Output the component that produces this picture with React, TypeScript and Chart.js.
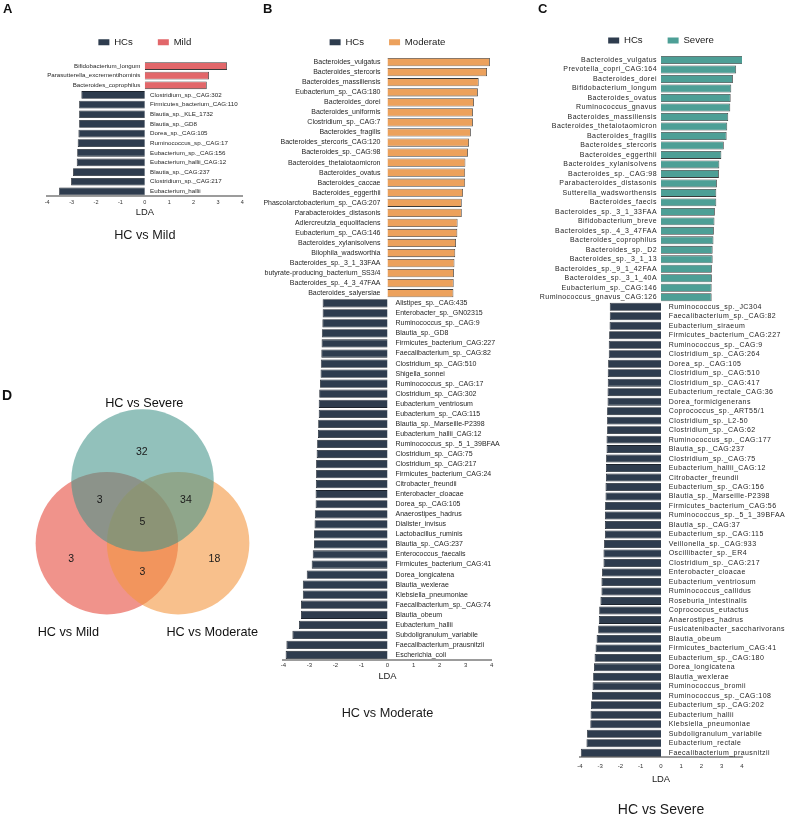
import React, { useEffect, useRef } from 'react';
import { Chart, registerables } from 'chart.js';
Chart.register(...registerables);

const FONT = "'Liberation Sans', Arial, Helvetica, sans-serif";
Chart.defaults.font.family = FONT;

// ---------------- DATA ----------------
const xTickMin = -4;
const xTickMax = 4;
const xAxisTitle = 'LDA';
const controlName = 'HCs';

// Panel A: HC vs Mild
const mildGroup = 'Mild';
const mildTitle = 'HC vs Mild';
const mildSpecies = [
  'Bifidobacterium_longum', 'Parasutterella_excrementihominis', 'Bacteroides_coprophilus',
  'Clostridium_sp._CAG:302', 'Firmicutes_bacterium_CAG:110', 'Blautia_sp._KLE_1732',
  'Blautia_sp._GD8', 'Dorea_sp._CAG:105', 'Ruminococcus_sp._CAG:17', 'Eubacterium_sp._CAG:156',
  'Eubacterium_hallii_CAG:12', 'Blautia_sp._CAG:237', 'Clostridium_sp._CAG:217', 'Eubacterium_hallii',
];
const mildLDA = [3.37, 2.63, 2.54, -2.6, -2.69, -2.69, -2.69, -2.72, -2.75, -2.77, -2.79, -2.94, -3.02, -3.51];

// Panel B: HC vs Moderate
const moderateGroup = 'Moderate';
const moderateTitle = 'HC vs Moderate';
const moderateSpecies = [
  'Bacteroides_vulgatus', 'Bacteroides_stercoris', 'Bacteroides_massiliensis', 'Eubacterium_sp._CAG:180',
  'Bacteroides_dorei', 'Bacteroides_uniformis', 'Clostridium_sp._CAG:7', 'Bacteroides_fragilis',
  'Bacteroides_stercoris_CAG:120', 'Bacteroides_sp._CAG:98', 'Bacteroides_thetaiotaomicron', 'Bacteroides_ovatus',
  'Bacteroides_caccae', 'Bacteroides_eggerthii', 'Phascolarctobacterium_sp._CAG:207', 'Parabacteroides_distasonis',
  'Adlercreutzia_equolifaciens', 'Eubacterium_sp._CAG:146', 'Bacteroides_xylanisolvens', 'Bilophila_wadsworthia',
  'Bacteroides_sp._3_1_33FAA', 'butyrate-producing_bacterium_SS3/4', 'Bacteroides_sp._4_3_47FAA', 'Bacteroides_salyersiae',
  'Alistipes_sp._CAG:435', 'Enterobacter_sp._GN02315', 'Ruminococcus_sp._CAG:9', 'Blautia_sp._GD8',
  'Firmicutes_bacterium_CAG:227', 'Faecalibacterium_sp._CAG:82', 'Clostridium_sp._CAG:510', 'Shigella_sonnei',
  'Ruminococcus_sp._CAG:17', 'Clostridium_sp._CAG:302', 'Eubacterium_ventriosum', 'Eubacterium_sp._CAG:115',
  'Blautia_sp._Marseille-P2398', 'Eubacterium_hallii_CAG:12', 'Ruminococcus_sp._5_1_39BFAA', 'Clostridium_sp._CAG:75',
  'Clostridium_sp._CAG:217', 'Firmicutes_bacterium_CAG:24', 'Citrobacter_freundii', 'Enterobacter_cloacae',
  'Dorea_sp._CAG:105', 'Anaerostipes_hadrus', 'Dialister_invisus', 'Lactobacillus_ruminis',
  'Blautia_sp._CAG:237', 'Enterococcus_faecalis', 'Firmicutes_bacterium_CAG:41', 'Dorea_longicatena',
  'Blautia_wexlerae', 'Klebsiella_pneumoniae', 'Faecalibacterium_sp._CAG:74', 'Blautia_obeum',
  'Eubacterium_hallii', 'Subdoligranulum_variabile', 'Faecalibacterium_prausnitzii', 'Escherichia_coli',
];
const moderateLDA = [
  3.93, 3.82, 3.5, 3.47, 3.32, 3.28, 3.28, 3.2, 3.13, 3.09, 2.99, 2.98,
  2.98, 2.9, 2.85, 2.85, 2.69, 2.68, 2.63, 2.6, 2.57, 2.55, 2.54, 2.53,
  -2.49, -2.49, -2.5, -2.52, -2.53, -2.54, -2.56, -2.57, -2.59, -2.62, -2.64, -2.64,
  -2.66, -2.67, -2.7, -2.72, -2.74, -2.74, -2.75, -2.76, -2.76, -2.79, -2.8, -2.82,
  -2.82, -2.87, -2.91, -3.1, -3.25, -3.25, -3.32, -3.32, -3.4, -3.65, -3.88, -3.91,
];

// Panel C: HC vs Severe
const severeGroup = 'Severe';
const severeTitle = 'HC vs Severe';
const severeSpecies = [
  'Bacteroides_vulgatus', 'Prevotella_copri_CAG:164', 'Bacteroides_dorei', 'Bifidobacterium_longum',
  'Bacteroides_ovatus', 'Ruminococcus_gnavus', 'Bacteroides_massiliensis', 'Bacteroides_thetaiotaomicron',
  'Bacteroides_fragilis', 'Bacteroides_stercoris', 'Bacteroides_eggerthii', 'Bacteroides_xylanisolvens',
  'Bacteroides_sp._CAG:98', 'Parabacteroides_distasonis', 'Sutterella_wadsworthensis', 'Bacteroides_faecis',
  'Bacteroides_sp._3_1_33FAA', 'Bifidobacterium_breve', 'Bacteroides_sp._4_3_47FAA', 'Bacteroides_coprophilus',
  'Bacteroides_sp._D2', 'Bacteroides_sp._3_1_13', 'Bacteroides_sp._9_1_42FAA', 'Bacteroides_sp._3_1_40A',
  'Eubacterium_sp._CAG:146', 'Ruminococcus_gnavus_CAG:126',
  'Ruminococcus_sp._JC304', 'Faecalibacterium_sp._CAG:82', 'Eubacterium_siraeum', 'Firmicutes_bacterium_CAG:227',
  'Ruminococcus_sp._CAG:9', 'Clostridium_sp._CAG:264', 'Dorea_sp._CAG:105', 'Clostridium_sp._CAG:510',
  'Clostridium_sp._CAG:417', 'Eubacterium_rectale_CAG:36', 'Dorea_formicigenerans', 'Coprococcus_sp._ART55/1',
  'Clostridium_sp._L2-50', 'Clostridium_sp._CAG:62', 'Ruminococcus_sp._CAG:177', 'Blautia_sp._CAG:237',
  'Clostridium_sp._CAG:75', 'Eubacterium_hallii_CAG:12', 'Citrobacter_freundii', 'Eubacterium_sp._CAG:156',
  'Blautia_sp._Marseille-P2398', 'Firmicutes_bacterium_CAG:56', 'Ruminococcus_sp._5_1_39BFAA', 'Blautia_sp._CAG:37',
  'Eubacterium_sp._CAG:115', 'Veillonella_sp._CAG:933', 'Oscillibacter_sp._ER4', 'Clostridium_sp._CAG:217',
  'Enterobacter_cloacae', 'Eubacterium_ventriosum', 'Ruminococcus_callidus', 'Roseburia_intestinalis',
  'Coprococcus_eutactus', 'Anaerostipes_hadrus', 'Fusicatenibacter_saccharivorans', 'Blautia_obeum',
  'Firmicutes_bacterium_CAG:41', 'Eubacterium_sp._CAG:180', 'Dorea_longicatena', 'Blautia_wexlerae',
  'Ruminococcus_bromii', 'Ruminococcus_sp._CAG:108', 'Eubacterium_sp._CAG:202', 'Eubacterium_hallii',
  'Klebsiella_pneumoniae', 'Subdoligranulum_variabile', 'Eubacterium_rectale', 'Faecalibacterium_prausnitzii',
];
const severeLDA = [
  4.04, 3.71, 3.55, 3.47, 3.44, 3.42, 3.32, 3.27, 3.24, 3.1, 2.98, 2.88, 2.86,
  2.76, 2.73, 2.73, 2.66, 2.64, 2.61, 2.59, 2.55, 2.55, 2.51, 2.51, 2.5, 2.5,
  -2.53, -2.53, -2.54, -2.56, -2.58, -2.58, -2.61, -2.63, -2.63, -2.64, -2.64, -2.66,
  -2.66, -2.66, -2.69, -2.69, -2.71, -2.72, -2.72, -2.74, -2.74, -2.76, -2.77, -2.77,
  -2.77, -2.81, -2.84, -2.84, -2.91, -2.94, -2.94, -2.99, -3.05, -3.07, -3.1, -3.18,
  -3.23, -3.28, -3.31, -3.35, -3.38, -3.41, -3.46, -3.48, -3.49, -3.65, -3.68, -3.96,
];

// Panel D: Venn of discriminant species
const vennSetNames = ['HC vs Mild', 'HC vs Moderate', 'HC vs Severe'];
const vennRadius = 1;
const vennCentersX = [-0.5, 0.5, 0];
const vennCentersY = [-0.29, -0.29, 0.59];
const vennCounts = [32, 3, 34, 5, 3, 3, 18];
const vennCountX = [-0.01, -0.6, 0.61, 0, -1.0, 0, 1.01];
const vennCountY = [0.99, 0.32, 0.32, 0, -0.52, -0.7, -0.52];

// ---------------- STYLE ----------------
const HC_COLOR = '#2e3c4e';
const MILD_COLOR = '#e2676a';
const MODERATE_COLOR = '#eca15c';
const SEVERE_COLOR = '#4d9f96';
const VENN_COLORS = ['rgba(230,75,62,0.6)', 'rgba(243,150,63,0.6)', 'rgba(68,148,137,0.58)'];

const LEG_FONT = 9.6;
const LEG_PAD = 25;

type Layout = {
  left: number; top: number; width: number;
  xNeg4: number; xPos4: number;
  legendY: number; areaTop: number; axisY: number;
  tickFont: number; tickY: number;
  ldaFont: number; ldaY: number;
  titleFont: number; titleY: number;
  labelFont: number; letterSpacing: number; gapPos: number; gapNeg: number;
  barPct: number;
};

const layoutA: Layout = {
  left: 0, top: 0, width: 250, xNeg4: 47.2, xPos4: 242.4,
  legendY: 42.3, areaTop: 61.2, axisY: 196.2,
  tickFont: 5.5, tickY: 202.7, ldaFont: 9.4, ldaY: 212.3, titleFont: 12.7, titleY: 235,
  labelFont: 6.2, letterSpacing: 0, gapPos: 4.4, gapNeg: 5.3, barPct: 0.8,
};
const layoutB: Layout = {
  left: 235, top: 0, width: 285, xNeg4: 283.3, xPos4: 491.7,
  legendY: 42.3, areaTop: 57.1, axisY: 660,
  tickFont: 6, tickY: 665.3, ldaFont: 9.4, ldaY: 676.7, titleFont: 12.7, titleY: 713.3,
  labelFont: 7, letterSpacing: 0, gapPos: 7, gapNeg: 8, barPct: 0.82,
};
const layoutC: Layout = {
  left: 515, top: 0, width: 273, xNeg4: 580, xPos4: 742,
  legendY: 40.5, areaTop: 55.3, axisY: 757.5,
  tickFont: 6, tickY: 766.7, ldaFont: 9.4, ldaY: 779.3, titleFont: 14, titleY: 810.5,
  labelFont: 7, letterSpacing: 0.45, gapPos: 4, gapNeg: 7.7, barPct: 0.84,
};

const barLabelPlugin = {
  id: 'barLabels',
  afterDatasetsDraw(chart: any, _args: any, opts: any) {
    const ctx = chart.ctx;
    const x0 = chart.scales.x.getPixelForValue(0);
    ctx.save();
    ctx.font = `${opts.size}px ${FONT}`;
    if ('letterSpacing' in ctx) (ctx as any).letterSpacing = `${opts.letterSpacing}px`;
    ctx.fillStyle = '#262626';
    ctx.textBaseline = 'middle';
    chart.data.datasets.forEach((ds: any, di: number) => {
      const meta = chart.getDatasetMeta(di);
      meta.data.forEach((el: any, i: number) => {
        const v = ds.data[i];
        if (v == null) return;
        const label = chart.data.labels[i];
        if (v >= 0) {
          ctx.textAlign = 'right';
          ctx.fillText(label, x0 - opts.gapPos, el.y);
        } else {
          ctx.textAlign = 'left';
          ctx.fillText(label, x0 + opts.gapNeg, el.y);
        }
      });
    });
    ctx.restore();
  },
};

function buildConfig(L: Layout, species: string[], lda: number[], group: string, color: string, title: string) {
  const padTop = L.legendY - L.top - LEG_PAD - LEG_FONT / 2;
  const legendBottom = padTop + LEG_FONT + LEG_PAD + 10;
  const spacer = Math.max(0, L.areaTop - L.top - legendBottom);
  const tickLH = L.tickFont * 1.2;
  const tickPadding = L.tickY - L.axisY - tickLH / 2;
  const ldaLH = L.ldaFont * 1.2;
  const xH = L.ldaY - L.axisY + ldaLH / 2;
  const titleLH = L.titleFont * 1.2;
  const titleTop = L.axisY + xH;
  const titlePadTop = L.titleY - titleLH / 2 - titleTop;
  const titlePadBottom = 4;
  const rawH = titleTop + titlePadTop + titleLH + titlePadBottom - L.top;
  const height = Math.ceil(rawH);
  const config: any = {
    type: 'bar',
    data: {
      labels: species,
      datasets: [
        {
          label: controlName,
          data: lda.map((v) => (v < 0 ? v : null)),
          backgroundColor: HC_COLOR,
          borderColor: '#1c232d',
          borderWidth: 0.8,
          grouped: false,
          barPercentage: L.barPct,
          categoryPercentage: 1,
        },
        {
          label: group,
          data: lda.map((v) => (v >= 0 ? v : null)),
          backgroundColor: color,
          borderColor: '#3a3a3a',
          borderWidth: 0.8,
          grouped: false,
          barPercentage: L.barPct,
          categoryPercentage: 1,
        },
      ],
    },
    options: {
      indexAxis: 'y',
      responsive: false,
      animation: false,
      devicePixelRatio: 1,
      events: [],
      layout: {
        padding: {
          left: L.xNeg4 - L.left,
          right: L.left + L.width - L.xPos4,
          top: padTop,
          bottom: height - rawH,
        },
      },
      scales: {
        x: {
          type: 'linear',
          min: xTickMin,
          max: xTickMax,
          ticks: { stepSize: 1, font: { size: L.tickFont }, color: '#333', padding: tickPadding },
          grid: { display: false, drawTicks: false },
          border: { display: true, color: '#9c9c9c', width: 2 },
          title: { display: true, text: xAxisTitle, font: { size: L.ldaFont }, color: '#1a1a1a', padding: { top: 0, bottom: 0 } },
          afterFit: (s: any) => { s.height = xH; },
        },
        xTop: {
          type: 'linear',
          position: 'top',
          display: spacer > 0,
          grid: { display: false, drawTicks: false },
          border: { display: false },
          ticks: { display: false },
          afterFit: (s: any) => { s.height = spacer; },
        },
        y: { display: false },
      },
      plugins: {
        legend: {
          display: true,
          position: 'top',
          labels: {
            boxWidth: 11,
            boxHeight: 6,
            padding: LEG_PAD,
            color: '#1a1a1a',
            font: { size: LEG_FONT },
            generateLabels: (chart: any) =>
              (Chart.defaults.plugins.legend.labels as any).generateLabels(chart).map((l: any) => ({ ...l, lineWidth: 0 })),
          },
        },
        title: {
          display: true,
          position: 'bottom',
          text: title,
          color: '#1a1a1a',
          font: { size: L.titleFont, weight: 'normal' },
          padding: { top: titlePadTop, bottom: titlePadBottom },
        },
        tooltip: { enabled: false },
        barLabels: { size: L.labelFont, letterSpacing: L.letterSpacing, gapPos: L.gapPos, gapNeg: L.gapNeg },
      },
    },
    plugins: [barLabelPlugin],
  };
  return { config, height };
}

function LdaPanel(props: { L: Layout; species: string[]; lda: number[]; group: string; color: string; title: string }) {
  const ref = useRef<HTMLCanvasElement | null>(null);
  const { config, height } = buildConfig(props.L, props.species, props.lda, props.group, props.color, props.title);
  useEffect(() => {
    if (!ref.current) return;
    const chart = new Chart(ref.current, config);
    return () => chart.destroy();
  }, []);
  return (
    <canvas
      ref={ref}
      width={props.L.width}
      height={height}
      style={{ position: 'absolute', left: props.L.left, top: props.L.top, width: props.L.width, height }}
    />
  );
}

const vennCountPlugin = {
  id: 'vennCounts',
  afterDatasetsDraw(chart: any) {
    const ctx = chart.ctx;
    const meta = chart.getDatasetMeta(1);
    ctx.save();
    ctx.font = `10.5px ${FONT}`;
    ctx.fillStyle = '#1a1a1a';
    ctx.textAlign = 'center';
    ctx.textBaseline = 'middle';
    meta.data.forEach((pt: any, i: number) => ctx.fillText(String(vennCounts[i]), pt.x, pt.y));
    ctx.restore();
  },
};

const VENN_BOX = { left: 0, top: 380, size: 285 };

function VennPanel() {
  const ref = useRef<HTMLCanvasElement | null>(null);
  useEffect(() => {
    if (!ref.current) return;
    const chart = new Chart(ref.current, {
      type: 'scatter',
      data: {
        datasets: [
          {
            label: 'sets',
            data: vennCentersX.map((x, i) => ({ x, y: vennCentersY[i] })),
            pointBackgroundColor: VENN_COLORS,
            pointBorderWidth: 0,
            pointRadius: (c: any) => {
              const s = c.chart.scales.x;
              return Math.abs(s.getPixelForValue(vennRadius) - s.getPixelForValue(0));
            },
          } as any,
          {
            label: 'counts',
            data: vennCountX.map((x, i) => ({ x, y: vennCountY[i] })),
            pointRadius: 0,
          },
        ],
      },
      options: {
        responsive: false,
        animation: false,
        devicePixelRatio: 1,
        events: [],
        layout: { padding: 0 },
        scales: {
          x: { type: 'linear', min: -2, max: 2, display: false },
          y: { type: 'linear', min: -2, max: 2, display: false },
        },
        plugins: { legend: { display: false }, tooltip: { enabled: false } },
      },
      plugins: [vennCountPlugin],
    } as any);
    return () => chart.destroy();
  }, []);
  return (
    <canvas
      ref={ref}
      width={VENN_BOX.size}
      height={VENN_BOX.size}
      style={{ position: 'absolute', left: VENN_BOX.left, top: VENN_BOX.top, width: VENN_BOX.size, height: VENN_BOX.size }}
    />
  );
}

function Txt(props: { x: number; y: number; size: number; bold?: boolean; center?: boolean; children: any }) {
  return (
    <div
      style={{
        position: 'absolute',
        left: props.x,
        top: props.y,
        fontSize: props.size,
        lineHeight: 1,
        fontWeight: props.bold ? 'bold' : 'normal',
        whiteSpace: 'nowrap',
        color: '#111',
        transform: props.center ? 'translate(-50%, -50%)' : 'translate(0, -50%)',
      }}
    >
      {props.children}
    </div>
  );
}

export default function App() {
  return (
    <div style={{ position: 'absolute', left: 0, top: 0, width: 788, height: 817, overflow: 'hidden', background: '#fff', fontFamily: FONT }}>
      <LdaPanel L={layoutA} species={mildSpecies} lda={mildLDA} group={mildGroup} color={MILD_COLOR} title={mildTitle} />
      <LdaPanel L={layoutB} species={moderateSpecies} lda={moderateLDA} group={moderateGroup} color={MODERATE_COLOR} title={moderateTitle} />
      <LdaPanel L={layoutC} species={severeSpecies} lda={severeLDA} group={severeGroup} color={SEVERE_COLOR} title={severeTitle} />
      <VennPanel />
      <Txt x={3} y={8} size={13} bold>A</Txt>
      <Txt x={263} y={7.5} size={13} bold>B</Txt>
      <Txt x={538} y={7.5} size={13} bold>C</Txt>
      <Txt x={2} y={394.5} size={14} bold>D</Txt>
      <Txt x={144.3} y={402.7} size={12.7} center>{vennSetNames[2]}</Txt>
      <Txt x={68.3} y={631.7} size={12.7} center>{vennSetNames[0]}</Txt>
      <Txt x={212.3} y={631.7} size={12.7} center>{vennSetNames[1]}</Txt>
    </div>
  );
}
